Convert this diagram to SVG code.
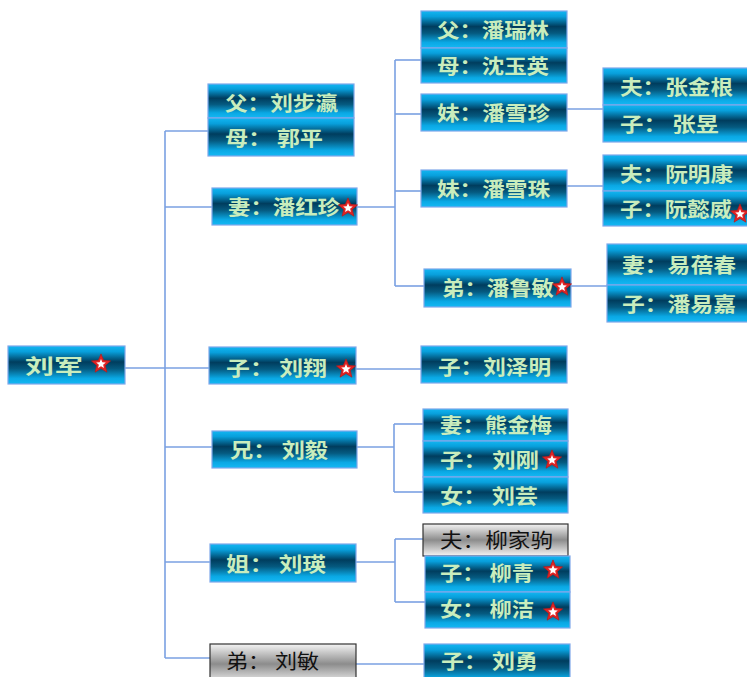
<svg xmlns="http://www.w3.org/2000/svg" xmlns:xlink="http://www.w3.org/1999/xlink" width="747" height="677" viewBox="0 0 747 677">
<defs>
<linearGradient id="blue" x1="0" y1="0" x2="0" y2="1">
<stop offset="0" stop-color="#12b6f2"/>
<stop offset="0.15" stop-color="#089fdb"/>
<stop offset="0.42" stop-color="#003d5e"/>
<stop offset="0.6" stop-color="#055a80"/>
<stop offset="0.85" stop-color="#0aa8e4"/>
<stop offset="1" stop-color="#14b8f4"/>
</linearGradient>
<linearGradient id="gray" x1="0" y1="0" x2="0" y2="1">
<stop offset="0" stop-color="#f4f4f4"/>
<stop offset="0.5" stop-color="#8c8c8c"/>
<stop offset="1" stop-color="#f4f4f4"/>
</linearGradient>
<g id="star" transform="scale(1.12)">
<polygon points="0,-9 2.35,-3.24 8.56,-2.78 3.8,1.24 5.29,7.28 0,4 -5.29,7.28 -3.8,1.24 -8.56,-2.78 -2.35,-3.24" fill="#e02424" stroke="#b81818" stroke-width="0.6"/>
<polygon points="0,-9 2.35,-3.24 8.56,-2.78 3.8,1.24 5.29,7.28 0,4 -5.29,7.28 -3.8,1.24 -8.56,-2.78 -2.35,-3.24" fill="#ffffff" transform="scale(0.5)"/>
</g>
</defs>
<style>
.b{fill:url(#blue);stroke:#7fa7ea;stroke-width:1.2}
.g{fill:url(#gray);stroke:#333333;stroke-width:1.2}
.t{font-family:"Noto Sans CJK SC","Noto Sans CJK TC",sans-serif;font-size:20px;font-weight:bold;fill:#c9edbd}
.tg{font-family:"Noto Sans CJK SC","Noto Sans CJK TC",sans-serif;font-size:20px;fill:#111111}
.c{stroke:#7aa0e2;stroke-width:1.6;fill:none}
</style>
<rect width="747" height="677" fill="#ffffff"/>
<g id="connectors" class="c">
<path d="M125,368 H209"/>
<path d="M165,131 V658"/>
<path d="M165,131 H208"/>
<path d="M165,207 H212"/>
<path d="M165,447 H212"/>
<path d="M165,562 H210"/>
<path d="M165,658 H210"/>
<path d="M357,207 H395"/>
<path d="M395,60 V286"/>
<path d="M395,60 H421"/>
<path d="M395,114 H421"/>
<path d="M395,191 H421"/>
<path d="M395,286 H424"/>
<path d="M567,109 H603"/>
<path d="M567,186 H603"/>
<path d="M571,286 H607"/>
<path d="M356,369 H421"/>
<path d="M357,447 H394"/>
<path d="M394,424 V492"/>
<path d="M394,424 H423"/>
<path d="M394,492 H423"/>
<path d="M356,562 H395"/>
<path d="M395,539 V602"/>
<path d="M395,539 H423"/>
<path d="M395,602 H425"/>
<path d="M356,664 H424"/>
</g>
<g id="n-liujun"><rect class="b" x="8" y="346" width="117" height="38"/><text class="t" x="25" y="373.5" textLength="58" lengthAdjust="spacingAndGlyphs">刘军</text><use xlink:href="#star" x="101" y="364"/></g>
<g id="n-fu1"><rect class="b" x="208" y="84" width="146" height="34"/><text class="t" x="225" y="110.5" textLength="113" lengthAdjust="spacingAndGlyphs">父：刘步瀛</text></g>
<g id="n-mu1"><rect class="b" x="208" y="118" width="146" height="38"/><text class="t" x="225" y="145.5" textLength="98" lengthAdjust="spacingAndGlyphs">母： 郭平</text></g>
<g id="n-qi"><rect class="b" x="212" y="188" width="145" height="37"/><text class="t" x="228" y="214.5" textLength="112" lengthAdjust="spacingAndGlyphs">妻：潘红珍</text><use xlink:href="#star" x="348" y="208"/></g>
<g id="n-fu2"><rect class="b" x="421" y="11" width="146" height="37"/><text class="t" x="437" y="37.5" textLength="112" lengthAdjust="spacingAndGlyphs">父：潘瑞林</text></g>
<g id="n-mu2"><rect class="b" x="421" y="48" width="146" height="35"/><text class="t" x="437" y="73.5" textLength="112" lengthAdjust="spacingAndGlyphs">母：沈玉英</text></g>
<g id="n-mei1"><rect class="b" x="421" y="94" width="146" height="37"/><text class="t" x="437" y="120.5" textLength="113" lengthAdjust="spacingAndGlyphs">妹：潘雪珍</text></g>
<g id="n-mei2"><rect class="b" x="421" y="170" width="146" height="37"/><text class="t" x="437" y="196.5" textLength="113" lengthAdjust="spacingAndGlyphs">妹：潘雪珠</text></g>
<g id="n-fu3"><rect class="b" x="603" y="68" width="146" height="37"/><text class="t" x="620" y="94.5" textLength="113" lengthAdjust="spacingAndGlyphs">夫：张金根</text></g>
<g id="n-zi3"><rect class="b" x="603" y="105" width="146" height="37"/><text class="t" x="620" y="131.5" textLength="99" lengthAdjust="spacingAndGlyphs">子： 张昱</text></g>
<g id="n-fu4"><rect class="b" x="603" y="155" width="146" height="36"/><text class="t" x="620" y="181.5" textLength="113" lengthAdjust="spacingAndGlyphs">夫：阮明康</text></g>
<g id="n-zi4"><rect class="b" x="603" y="191" width="146" height="35"/><text class="t" x="620" y="216.5" textLength="112" lengthAdjust="spacingAndGlyphs">子：阮懿威</text><use xlink:href="#star" x="740" y="214"/></g>
<g id="n-di1"><rect class="b" x="424" y="269" width="147" height="38"/><text class="t" x="442" y="295.5" textLength="112" lengthAdjust="spacingAndGlyphs">弟：潘鲁敏</text><use xlink:href="#star" x="562" y="287"/></g>
<g id="n-qi2"><rect class="b" x="607" y="244" width="142" height="41"/><text class="t" x="622" y="272.5" textLength="114" lengthAdjust="spacingAndGlyphs">妻：易蓓春</text></g>
<g id="n-zi5"><rect class="b" x="607" y="285" width="142" height="37"/><text class="t" x="622" y="311.5" textLength="114" lengthAdjust="spacingAndGlyphs">子：潘易嘉</text></g>
<g id="n-liuxiang"><rect class="b" x="209" y="347" width="147" height="37"/><text class="t" x="226" y="375.5" textLength="101" lengthAdjust="spacingAndGlyphs">子： 刘翔</text><use xlink:href="#star" x="346" y="369"/></g>
<g id="n-liuzeming"><rect class="b" x="421" y="346" width="146" height="37"/><text class="t" x="438" y="374.5" textLength="113" lengthAdjust="spacingAndGlyphs">子：刘泽明</text></g>
<g id="n-liuyi"><rect class="b" x="212" y="431" width="145" height="37"/><text class="t" x="230" y="457.5" textLength="98" lengthAdjust="spacingAndGlyphs">兄： 刘毅</text></g>
<g id="n-xiong"><rect class="b" x="423" y="409" width="145" height="32"/><text class="t" x="440" y="432.5" textLength="112" lengthAdjust="spacingAndGlyphs">妻：熊金梅</text></g>
<g id="n-liugang"><rect class="b" x="423" y="441" width="145" height="36"/><text class="t" x="440" y="467.5" textLength="99" lengthAdjust="spacingAndGlyphs">子： 刘刚</text><use xlink:href="#star" x="552" y="460"/></g>
<g id="n-liuyun"><rect class="b" x="423" y="477" width="145" height="36"/><text class="t" x="440" y="503.5" textLength="98" lengthAdjust="spacingAndGlyphs">女： 刘芸</text></g>
<g id="n-liuying"><rect class="b" x="210" y="544" width="146" height="38"/><text class="t" x="226" y="571.5" textLength="100" lengthAdjust="spacingAndGlyphs">姐： 刘瑛</text></g>
<g id="n-liujiaju"><rect class="g" x="423" y="524" width="145" height="32"/><text class="tg" x="440" y="547.5" textLength="113" lengthAdjust="spacingAndGlyphs">夫：柳家驹</text></g>
<g id="n-liuqing"><rect class="b" x="425" y="556" width="145" height="36"/><text class="t" x="440" y="580.5" textLength="94" lengthAdjust="spacingAndGlyphs">子： 柳青</text><use xlink:href="#star" x="553" y="570"/></g>
<g id="n-liujie"><rect class="b" x="425" y="592" width="145" height="36"/><text class="t" x="440" y="616.5" textLength="94" lengthAdjust="spacingAndGlyphs">女： 柳洁</text><use xlink:href="#star" x="553" y="612"/></g>
<g id="n-liumin"><rect class="g" x="210" y="644" width="146" height="40"/><text class="tg" x="226" y="668.5" textLength="93" lengthAdjust="spacingAndGlyphs">弟： 刘敏</text></g>
<g id="n-liuyong"><rect class="b" x="424" y="644" width="146" height="40"/><text class="t" x="441" y="668.5" textLength="97" lengthAdjust="spacingAndGlyphs">子： 刘勇</text></g>
</svg>
